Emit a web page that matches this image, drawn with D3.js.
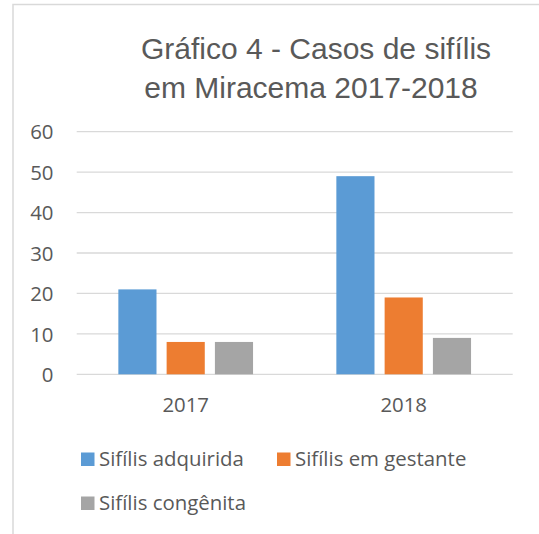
<!DOCTYPE html>
<html>
<head>
<meta charset="utf-8">
<script src="https://cdn.jsdelivr.net/npm/d3@7"></script>
<style>
  html, body { margin: 0; padding: 0; background: #ffffff; }
  svg { display: block; }
</style>
</head>
<body>
<svg id="chart" width="539" height="534"></svg>
<script>
// Casos de sífilis em Miracema, por ano e tipo
const categories = ["2017", "2018"];
const seriesNames = ["Sifílis adquirida", "Sifílis em gestante", "Sifílis congênita"];
const adquirida = [21, 49];
const gestante = [8, 19];
const congenita = [8, 9];
const seriesValues = [adquirida, gestante, congenita];
const yTicks = [0, 10, 20, 30, 40, 50, 60];
const titleLines = ["Gráfico 4 - Casos de sifílis", "em Miracema 2017-2018"];

const colors = ["#5B9BD5", "#ED7D31", "#A5A5A5"];
const textColor = "#595959";
const gridColor = "#D9D9D9";
const bodyFont = "'Open Sans', 'Noto Sans', sans-serif";
const bodySize = 20.4;

const svg = d3.select("#chart");

// chart frame
svg.append("rect")
  .attr("x", 13).attr("y", 4.5)
  .attr("width", 560).attr("height", 560)
  .attr("fill", "none")
  .attr("stroke", gridColor)
  .attr("stroke-width", 1.5);

// title
svg.append("g")
  .selectAll("text")
  .data(titleLines)
  .join("text")
  .attr("x", (d, i) => i === 0 ? 316 : 311)
  .attr("y", (d, i) => 59 + i * 39)
  .attr("text-anchor", "middle")
  .attr("font-family", "'Liberation Sans', Arial, sans-serif")
  .attr("font-size", 30)
  .attr("fill", textColor)
  .text(d => d);

const plot = { left: 76.7, right: 512.7, top: 131.7, bottom: 374.3 };

const y = d3.scaleLinear().domain([0, 60]).range([plot.bottom, plot.top]);
const x = d3.scaleBand().domain(categories).range([plot.left, plot.right]);
const groupWidth = 134.7;
const xs = d3.scaleBand()
  .domain(seriesNames)
  .range([-groupWidth / 2, groupWidth / 2])
  .paddingInner(0.21)
  .paddingOuter(0);

// gridlines
svg.append("g")
  .selectAll("line")
  .data(yTicks)
  .join("line")
  .attr("x1", plot.left).attr("x2", plot.right)
  .attr("y1", d => y(d)).attr("y2", d => y(d))
  .attr("stroke", gridColor)
  .attr("stroke-width", 1.3);

// y axis labels
const yAxis = d3.axisLeft(y).tickValues(yTicks).tickSize(0).tickPadding(0);
svg.append("g")
  .attr("transform", `translate(53.5,0)`)
  .call(yAxis)
  .call(g => g.select(".domain").remove())
  .call(g => g.selectAll("text")
    .attr("font-family", bodyFont)
    .attr("font-size", bodySize)
    .attr("fill", textColor)
    .attr("dy", "0.35em"));

// bars
const bars = [];
seriesNames.forEach((name, si) => {
  categories.forEach((cat, ci) => {
    bars.push({ name, cat, value: seriesValues[si][ci], color: colors[si] });
  });
});
svg.append("g")
  .selectAll("rect")
  .data(bars)
  .join("rect")
  .attr("x", d => x(d.cat) + x.bandwidth() / 2 + xs(d.name))
  .attr("width", xs.bandwidth())
  .attr("y", d => y(d.value))
  .attr("height", d => y(0) - y(d.value))
  .attr("fill", d => d.color);

// category axis labels
const xAxis = d3.axisBottom(x).tickSize(0).tickPadding(0);
svg.append("g")
  .attr("transform", `translate(0,${plot.bottom})`)
  .call(xAxis)
  .call(g => g.select(".domain").remove())
  .call(g => g.selectAll("text")
    .attr("font-family", bodyFont)
    .attr("font-size", bodySize)
    .attr("fill", textColor)
    .attr("dy", null)
    .attr("y", 38));

// legend
const legendPos = [
  { x: 81, y: 466 },
  { x: 277, y: 466 },
  { x: 81, y: 510 }
];
const legend = svg.append("g")
  .selectAll("g")
  .data(seriesNames)
  .join("g")
  .attr("transform", (d, i) => `translate(${legendPos[i].x},${legendPos[i].y})`);
legend.append("rect")
  .attr("x", 0).attr("y", -13.5)
  .attr("width", 13.5).attr("height", 13.5)
  .attr("fill", (d, i) => colors[i]);
legend.append("text")
  .attr("x", 18)
  .attr("y", 0)
  .attr("font-family", bodyFont)
  .attr("font-size", bodySize)
  .attr("fill", textColor)
  .text(d => d);
</script>
</body>
</html>
